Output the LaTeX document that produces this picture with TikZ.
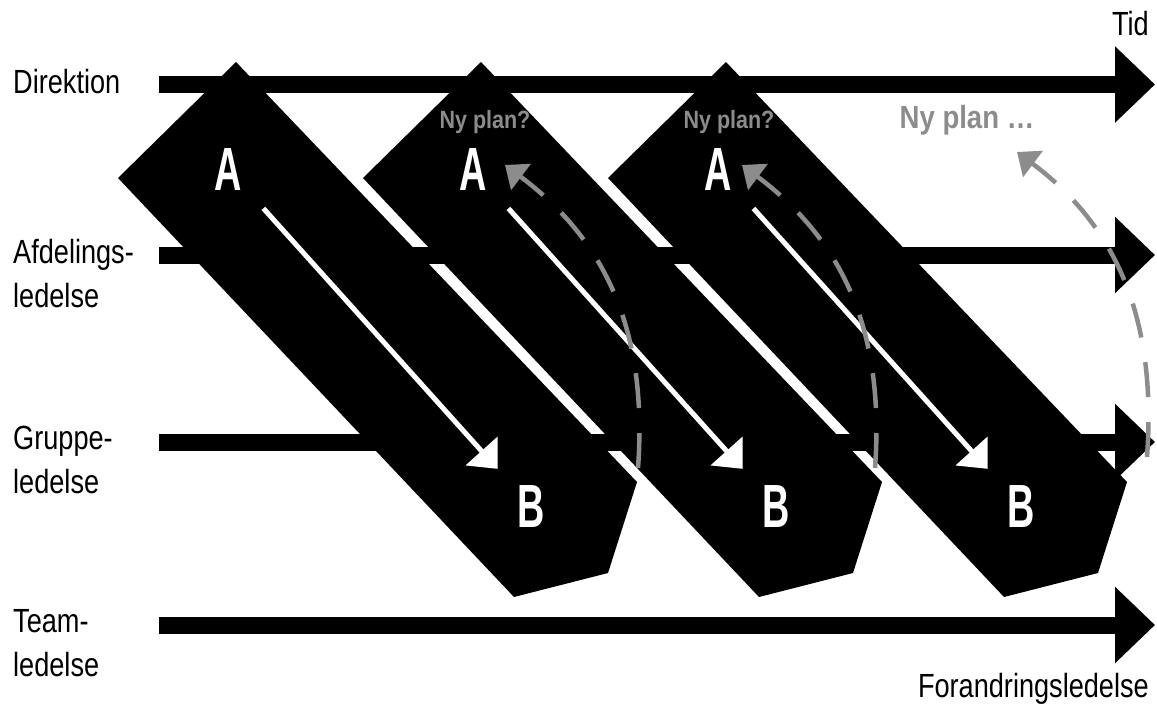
\documentclass[tikz,border=0pt]{standalone}
\usepackage{fontspec}
\setmainfont{Liberation Sans}[FakeStretch=0.81]
\newfontfamily\letterfont{Liberation Sans}[FakeStretch=0.62]
\newfontfamily\planfont{Liberation Sans}[FakeStretch=0.86]
\usetikzlibrary{arrows.meta}
\definecolor{planGray}{HTML}{8C8C8C}
\tikzset{
  level/.style={inner sep=0pt, anchor=base west, align=left, font=\fontsize{33.5}{44}\selectfont},
  corner/.style={inner sep=0pt, anchor=base east, font=\fontsize{33.5}{44}\selectfont},
  levelline/.style={line width=17pt, -{Triangle[length=40pt,width=74pt]}},
  change/.style={fill=black},
  letter/.style={inner sep=0pt, anchor=base, text=white, font=\letterfont\bfseries\fontsize{61}{61}\selectfont},
  flow/.style={white, line width=5pt, -{Triangle[length=24pt,width=42pt]}, shorten <=53pt, shorten >=50pt},
  plan/.style={inner sep=0pt, anchor=base, text=planGray, font=\planfont\bfseries\fontsize{25}{25}\selectfont},
  replan/.style={draw=planGray, line width=4.5pt, dash pattern=on 35pt off 25pt, -{Triangle[length=20pt,width=32pt]}}
}

\begin{document}
\begin{tikzpicture}[x=1pt, y=-1pt]
  \useasboundingbox (0,0) rectangle (1157,704);

  % levels (two-line labels sit on the baseline of their last line)
  \node[level] (dir) at (13,93) {Direktion};
  \node[level] (afd) at (13,307) {Afdelings-\\ledelse};
  \node[level] (grp) at (13,493) {Gruppe-\\ledelse};
  \node[level] (team) at (13,676) {Team-\\ledelse};
  \node[corner] (tid) at (1149,35) {Tid};
  \node[corner] (forand) at (1149,697) {Forandringsledelse};

  \coordinate (dirS) at (159,84.5);  \coordinate (dirE) at (1155,84.5);
  \coordinate (afdS) at (159,255);   \coordinate (afdE) at (1155,255);
  \coordinate (grpS) at (159,442);   \coordinate (grpE) at (1155,442);
  \coordinate (teamS) at (159,625);  \coordinate (teamE) at (1155,625);
  \draw[levelline] (dirS) -- (dirE);
  \draw[levelline] (afdS) -- (afdE);
  \draw[levelline] (grpS) -- (grpE);
  \draw[levelline] (teamS) -- (teamE);

  % the three change rounds
  \fill[change] (236,62) -- (118,178) -- (514,597) -- (608,573) -- (637,482) -- cycle;
  \fill[change] (481,62) -- (363,178) -- (759,597) -- (853,573) -- (882,482) -- cycle;
  \fill[change] (726,62) -- (608,178) -- (1004,597) -- (1098,573) -- (1127,482) -- cycle;

  \node[letter] (a1) at (228,190) {A};
  \node[letter] (b1) at (531,527) {B};
  \node[letter] (a2) at (473,190) {A};
  \node[letter] (b2) at (776,527) {B};
  \node[letter] (a3) at (718,190) {A};
  \node[letter] (b3) at (1021,527) {B};
  \draw[flow] (a1.center) -- (b1.center);
  \draw[flow] (a2.center) -- (b2.center);
  \draw[flow] (a3.center) -- (b3.center);

  % new plans
  \node[plan] (plan1) at (485,128) {Ny plan?};
  \node[plan] (plan2) at (729,128) {Ny plan?};
  \node[plan, font=\planfont\bfseries\fontsize{32}{32}\selectfont] (plan3) at (967,128) {Ny plan \dots};

  \coordinate (back1) at (638,468);  \coordinate (next1) at (505,165);
  \coordinate (back2) at (875,468);  \coordinate (next2) at (742,165);
  \coordinate (back3) at (1147,457); \coordinate (next3) at (1017,152);
  \draw[replan] (back1) .. controls +(10,-138) and +(100,75) .. (next1);
  \draw[replan] (back2) .. controls +(10,-138) and +(100,75) .. (next2);
  \draw[replan] (back3) .. controls +(10,-138) and +(100,75) .. (next3);
\end{tikzpicture}
\end{document}
